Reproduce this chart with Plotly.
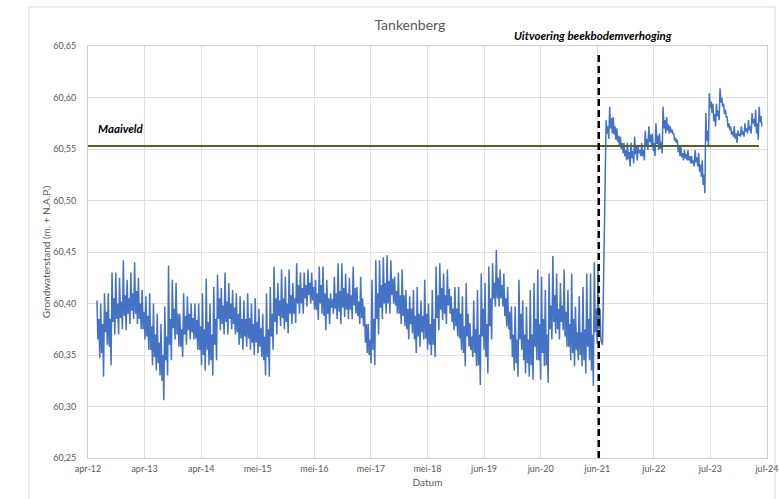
import pandas as pd
import plotly.graph_objects as go

# ---------------- data ----------------
title_text = "Tankenberg"
y_title = "Grondwaterstand (m. + N.A.P.)"
x_title = "Datum"

tick_dates = ["2012-04-10", "2013-04-18", "2014-04-26", "2015-05-04", "2016-05-11",
              "2017-05-19", "2018-05-27", "2019-06-04", "2020-06-11", "2021-06-19",
              "2022-06-27", "2023-07-05", "2024-07-12"]
tick_labels = ["apr-12", "apr-13", "apr-14", "mei-15", "mei-16", "mei-17", "mei-18",
               "jun-19", "jun-20", "jun-21", "jul-22", "jul-23", "jul-24"]

maaiveld = 60.553
maaiveld_label = "Maaiveld"
maaiveld_start = "2012-04-10"
maaiveld_end = "2024-05-20"

uitvoering_datum = "2021-06-29"
uitvoering_label = "Uitvoering beekbodemverhoging"

pre_start, pre_end = "2012-06-08", "2021-07-13"
level_before = [
    60.403, 60.365, 60.385, 60.347, 60.400, 60.352, 60.380, 60.329,
    60.410, 60.372, 60.392, 60.360, 60.410, 60.358, 60.385, 60.340,
    60.430, 60.382, 60.405, 60.370, 60.430, 60.385, 60.400, 60.370,
    60.425, 60.386, 60.402, 60.375, 60.442, 60.388, 60.408, 60.374,
    60.423, 60.390, 60.405, 60.380, 60.430, 60.393, 60.410, 60.385,
    60.440, 60.390, 60.412, 60.380, 60.425, 60.385, 60.400, 60.375,
    60.413, 60.375, 60.392, 60.365, 60.407, 60.368, 60.388, 60.355,
    60.410, 60.355, 60.378, 60.340, 60.400, 60.348, 60.370, 60.335,
    60.390, 60.342, 60.362, 60.330, 60.380, 60.325, 60.350, 60.306,
    60.397, 60.345, 60.368, 60.330, 60.437, 60.360, 60.385, 60.345,
    60.423, 60.376, 60.395, 60.365, 60.420, 60.370, 60.390, 60.358,
    60.390, 60.358, 60.375, 60.348, 60.410, 60.370, 60.388, 60.360,
    60.407, 60.374, 60.390, 60.365, 60.400, 60.372, 60.386, 60.365,
    60.400, 60.366, 60.384, 60.355,
    60.400, 60.355, 60.378, 60.340, 60.410, 60.350, 60.375, 60.335,
    60.424, 60.355, 60.382, 60.340, 60.400, 60.345, 60.370, 60.330,
    60.416, 60.360, 60.385, 60.345, 60.428, 60.385, 60.405, 60.374,
    60.415, 60.380, 60.398, 60.370, 60.430, 60.382, 60.402, 60.370,
    60.420, 60.385, 60.400, 60.375, 60.413, 60.380, 60.396, 60.370,
    60.410, 60.372, 60.390, 60.360, 60.407, 60.366, 60.385, 60.355,
    60.403, 60.368, 60.385, 60.358, 60.410, 60.366, 60.386, 60.355,
    60.400, 60.362, 60.380, 60.350, 60.405, 60.362, 60.382, 60.352,
    60.395, 60.358, 60.376, 60.348, 60.390, 60.345, 60.368, 60.330,
    60.410, 60.348, 60.375, 60.329, 60.416, 60.368, 60.390, 60.355,
    60.436, 60.382, 60.405, 60.370, 60.420, 60.388, 60.403, 60.378,
    60.433, 60.386, 60.405, 60.375, 60.426, 60.382, 60.400, 60.371,
    60.433, 60.390, 60.408, 60.380, 60.420, 60.390, 60.405, 60.381,
    60.439, 60.400, 60.418, 60.390, 60.430, 60.400, 60.415, 60.390,
    60.430, 60.405, 60.418, 60.397, 60.433, 60.408, 60.420, 60.400,
    60.430, 60.403, 60.416, 60.394, 60.423, 60.394, 60.410, 60.384,
    60.436, 60.400, 60.418, 60.390, 60.436, 60.388, 60.410, 60.374,
    60.423, 60.390, 60.405, 60.380, 60.410, 60.396, 60.404, 60.390,
    60.426, 60.395, 60.410, 60.385, 60.439, 60.392, 60.412, 60.380,
    60.439, 60.396, 60.415, 60.387, 60.429, 60.394, 60.410, 60.385,
    60.425, 60.394, 60.408, 60.385, 60.436, 60.398, 60.415, 60.390,
    60.416, 60.388, 60.402, 60.380, 60.426, 60.386, 60.405, 60.378,
    60.397, 60.362, 60.380, 60.352, 60.380, 60.350, 60.365, 60.342,
    60.423, 60.355, 60.385, 60.340, 60.442, 60.385, 60.410, 60.370,
    60.442, 60.396, 60.418, 60.385, 60.445, 60.400, 60.420, 60.390,
    60.447, 60.400, 60.422, 60.390, 60.442, 60.408, 60.424, 60.400,
    60.426, 60.398, 60.412, 60.390, 60.430, 60.390, 60.408, 60.380,
    60.433, 60.388, 60.408, 60.378, 60.413, 60.375, 60.395, 60.365,
    60.407, 60.380, 60.395, 60.371, 60.413, 60.365, 60.388, 60.352,
    60.416, 60.368, 60.390, 60.358, 60.403, 60.372, 60.388, 60.365,
    60.423, 60.366, 60.390, 60.355, 60.400, 60.360, 60.380, 60.350,
    60.413, 60.360, 60.385, 60.348, 60.436, 60.386, 60.408, 60.374,
    60.439, 60.394, 60.415, 60.384, 60.429, 60.390, 60.408, 60.380,
    60.433, 60.398, 60.414, 60.390, 60.407, 60.382, 60.395, 60.374,
    60.416, 60.378, 60.395, 60.368, 60.416, 60.366, 60.390, 60.355,
    60.407, 60.352, 60.378, 60.339, 60.420, 60.368, 60.390, 60.358,
    60.381, 60.355, 60.368, 60.348, 60.403, 60.352, 60.375, 60.339,
    60.413, 60.340, 60.370, 60.321, 60.429, 60.368, 60.395, 60.355,
    60.420, 60.348, 60.380, 60.332, 60.436, 60.378, 60.405, 60.365,
    60.439, 60.405, 60.420, 60.397, 60.452, 60.405, 60.425, 60.397,
    60.433, 60.405, 60.418, 60.397, 60.429, 60.388, 60.405, 60.378,
    60.416, 60.375, 60.392, 60.365, 60.397, 60.348, 60.370, 60.335,
    60.397, 60.342, 60.365, 60.329, 60.423, 60.365, 60.390, 60.355,
    60.403, 60.345, 60.370, 60.332, 60.397, 60.342, 60.365, 60.329,
    60.413, 60.340, 60.370, 60.326, 60.420, 60.358, 60.385, 60.345,
    60.433, 60.345, 60.380, 60.326, 60.426, 60.352, 60.385, 60.339,
    60.413, 60.340, 60.370, 60.323,
    60.429, 60.375, 60.398, 60.365, 60.446, 60.382, 60.408, 60.371,
    60.429, 60.375, 60.395, 60.365, 60.420, 60.382, 60.398, 60.374,
    60.433, 60.368, 60.392, 60.358, 60.413, 60.358, 60.380, 60.345,
    60.429, 60.352, 60.385, 60.339, 60.397, 60.355, 60.372, 60.345,
    60.407, 60.350, 60.372, 60.339, 60.416, 60.345, 60.375, 60.332,
    60.429, 60.358, 60.385, 60.345, 60.429, 60.335, 60.370, 60.320,
    60.440, 60.372, 60.395, 60.361, 60.436, 60.375, 60.395, 60.365,
]

post_start, post_end = "2021-07-24", "2024-06-08"
level_after = [
    60.360, 60.420, 60.490, 60.530,
    60.578, 60.565, 60.572, 60.560, 60.591, 60.570, 60.580, 60.565,
    60.581, 60.564, 60.572, 60.559, 60.570, 60.557, 60.563, 60.552,
    60.562, 60.550, 60.556, 60.546, 60.556, 60.543, 60.549, 60.539,
    60.556, 60.540, 60.547, 60.533, 60.556, 60.541, 60.548, 60.536,
    60.562, 60.545, 60.552, 60.539, 60.552, 60.546, 60.549, 60.543,
    60.556, 60.543, 60.549, 60.539, 60.568, 60.553, 60.560, 60.549,
    60.572, 60.557, 60.564, 60.552, 60.565, 60.548, 60.556, 60.543,
    60.575, 60.555, 60.563, 60.549, 60.565, 60.550, 60.557, 60.546,
    60.591, 60.570, 60.578, 60.565, 60.581, 60.568, 60.574, 60.565,
    60.572, 60.566, 60.569, 60.565, 60.565, 60.558, 60.561, 60.556,
    60.559, 60.547, 60.552, 60.543, 60.552, 60.542, 60.546, 60.539,
    60.549, 60.541, 60.545, 60.539, 60.549, 60.539, 60.543, 60.536,
    60.543, 60.536, 60.539, 60.533, 60.549, 60.537, 60.542, 60.533,
    60.546, 60.528, 60.535, 60.523, 60.539, 60.515, 60.525, 60.507,
    60.585, 60.558, 60.568, 60.552, 60.604, 60.590, 60.596, 60.585,
    60.594, 60.577, 60.584, 60.572, 60.594, 60.582, 60.587, 60.578,
    60.609, 60.595, 60.600, 60.591, 60.594, 60.584, 60.588, 60.581,
    60.581, 60.571, 60.575, 60.568, 60.572, 60.564, 60.567, 60.562,
    60.572, 60.560, 60.565, 60.556, 60.568, 60.563, 60.565, 60.562,
    60.572, 60.564, 60.567, 60.562, 60.575, 60.567, 60.570, 60.565,
    60.578, 60.568, 60.572, 60.565, 60.585, 60.575, 60.579, 60.572,
    60.588, 60.565, 60.575, 60.559, 60.591, 60.576, 60.582, 60.572,
]

y_min, y_max, y_step = 60.25, 60.65, 0.05

# ---------------- figure ----------------
dates = list(pd.date_range(pre_start, pre_end, periods=len(level_before))) + \
        list(pd.date_range(post_start, post_end, periods=len(level_after)))
levels = level_before + level_after

grey = "#595959"
grid = "#e0e0e0"
font_family = "Lato, 'Open Sans', sans-serif"

fig = go.Figure()
fig.add_trace(go.Scatter(x=dates, y=levels, mode="lines",
                         line=dict(color="#4472c4", width=1.5), showlegend=False))
fig.add_trace(go.Scatter(x=[maaiveld_start, maaiveld_end], y=[maaiveld, maaiveld], mode="lines",
                         line=dict(color="#4f6228", width=2), showlegend=False))
fig.add_trace(go.Scatter(x=[uitvoering_datum, uitvoering_datum], y=[y_min, 60.645], mode="lines",
                         line=dict(color="black", width=2.5, dash="7px,4px"), showlegend=False))

fig.add_annotation(x=uitvoering_datum, y=1.0, xref="x", yref="paper", yshift=11,
                   text="<b><i>" + uitvoering_label + "</i></b>", showarrow=False,
                   font=dict(family=font_family, size=11.5, color="black"),
                   xanchor="center", yanchor="middle", xshift=-6)
fig.add_annotation(x=maaiveld_start, y=maaiveld, xref="x", yref="y", xshift=8, yshift=17,
                   text="<b><i>" + maaiveld_label + "</i></b>", showarrow=False,
                   font=dict(family=font_family, size=11.5, color="black"),
                   xanchor="left", yanchor="middle")

# outer chart border
fig.add_shape(type="rect", xref="paper", yref="paper", x0=-0.0869, x1=1.0118, y0=-0.3, y1=1.0947,
              line=dict(color="#d9d9d9", width=1), fillcolor="rgba(0,0,0,0)", layer="below")

fig.update_layout(
    width=779, height=499,
    margin=dict(l=88, r=12, t=46, b=41),
    paper_bgcolor="white", plot_bgcolor="white",
    separators=",.",
    font=dict(family=font_family, color=grey, size=9),
    title=dict(text=title_text, x=0.474, xref="paper", y=0.95, yanchor="middle", xanchor="center",
               font=dict(family=font_family, size=14, color=grey)),
    showlegend=False,
)
fig.update_xaxes(type="date", range=[tick_dates[0], tick_dates[-1]],
                 tickvals=tick_dates, ticktext=tick_labels,
                 showgrid=True, gridcolor=grid, gridwidth=1,
                 showline=True, linecolor="#d0d0d0", mirror=True, zeroline=False,
                 ticks="", ticklabelstandoff=2,
                 tickfont=dict(size=9, color=grey),
                 title=dict(text=x_title, font=dict(size=10, color=grey), standoff=6),
                 automargin=False)
fig.update_yaxes(range=[y_min, y_max], dtick=y_step, tick0=y_min, tickformat=".2f",
                 showgrid=True, gridcolor=grid, gridwidth=1,
                 showline=True, linecolor="#d0d0d0", mirror=True, zeroline=False,
                 ticks="", ticklabelstandoff=9,
                 tickfont=dict(size=9, color=grey),
                 title=dict(text=y_title, font=dict(size=10, color=grey), standoff=0),
                 automargin=False)

fig.write_html("out.html", post_script="document.body.style.margin='0';",
               config={"displayModeBar": False})
